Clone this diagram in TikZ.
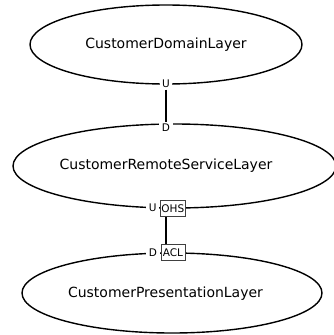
\documentclass[tikz,border=0pt]{standalone}
\usepackage{fontspec}
\setmainfont{DejaVu Sans}
\usetikzlibrary{shapes.geometric}
\tikzset{
  layer/.style={draw, ellipse, line width=1.4pt, inner sep=0pt, font=\fontsize{14}{16}\selectfont},
  layertext/.style={font=\fontsize{14}{16}\selectfont},
  role/.style={fill=white, inner xsep=2.5pt, inner ysep=1.5pt, font=\fontsize{10.5}{12}\selectfont},
  pattern/.style={draw=black!75, fill=white, line width=0.8pt, inner xsep=1.2pt, inner ysep=1.5pt, minimum width=24pt, minimum height=16pt, font=\fontsize{10.5}{12}\selectfont}
}
\begin{document}
\begin{tikzpicture}[x=1pt, y=-1pt]
  \useasboundingbox (0,0) rectangle (334,335);
  \node [layer, minimum width=272pt, minimum height=79pt] (domain) at (166,44.5) {CustomerDomainLayer};
  \node [layer, minimum width=323pt, minimum height=84pt, label={[layertext, xshift=-8.5pt]center:CustomerRemoteServiceLayer}] (remote) at (174.5,166) {};
  \node [layer, minimum width=300pt, minimum height=80pt, label={[layertext, xshift=-6.5pt, yshift=-1pt]center:CustomerPresentationLayer}] (presentation) at (172,293) {};
  % upstream / downstream ends
  \node [role] (u1) at (166,84) {U};
  \node [role] (d1) at (166,127.5) {D};
  \draw [line width=1.4pt] (u1) -- (d1);
  \node [role] (u2) at (152.7,208) {U};
  \node [pattern] (ohs) at (172.8,208.7) {OHS};
  \node [role] (d2) at (153,252.5) {D};
  \node [pattern] (acl) at (172.9,252.5) {ACL};
  \draw [line width=1.4pt] (ohs.south -| domain.south) -- (acl.north -| domain.south);
\end{tikzpicture}
\end{document}
